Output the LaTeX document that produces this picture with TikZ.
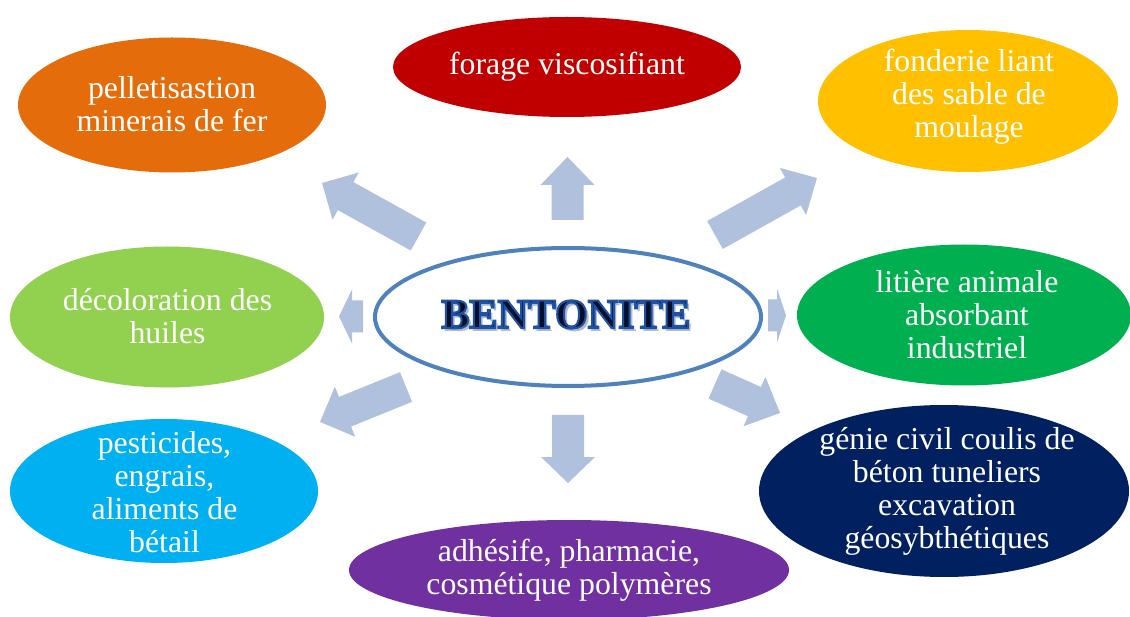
\documentclass[tikz,border=0pt]{standalone}
\usepackage{fontspec}
\setmainfont{Liberation Serif}
\usetikzlibrary{shapes.geometric}

\definecolor{cOrange}{RGB}{228,108,10}
\definecolor{cRed}{RGB}{192,0,0}
\definecolor{cYellow}{RGB}{255,192,0}
\definecolor{cLime}{RGB}{146,208,80}
\definecolor{cGreen}{RGB}{0,176,80}
\definecolor{cCyan}{RGB}{0,176,240}
\definecolor{cNavy}{RGB}{0,32,96}
\definecolor{cPurple}{RGB}{112,48,160}
\definecolor{arrowblue}{RGB}{176,193,221}
\definecolor{ringblue}{RGB}{79,129,189}
\definecolor{bentofill}{RGB}{6,14,40}
\definecolor{bentoshadow}{RGB}{178,186,204}

% block arrow: tail point, direction angle, total length, head length
\newcommand{\blockarrow}[4]{%
  \begin{scope}[shift={(#1)}, rotate=#2]
    \fill[arrowfill] (0,-16) -- (#3-#4,-16) -- (#3-#4,-27) -- (#3,0)
      -- (#3-#4,27) -- (#3-#4,16) -- (0,16) -- cycle;
  \end{scope}}

% outlined text: fill in the current colour, stroked in blue
\newcommand{\outlined}[1]{%
  \special{pdf:literal direct 2 Tr 2 w 0.118 0.322 0.647 RG}#1%
  \special{pdf:literal direct 0 Tr}}

% text with a drop shadow to the lower right, then outlined on top
\newcommand{\shadowed}[1]{%
  \makebox[0pt][l]{\kern3pt\raisebox{-3pt}{\color{bentoshadow}#1}}\outlined{#1}}

\begin{document}
\begin{tikzpicture}[x=1pt,y=-1pt,
  usage/.style={ellipse, inner sep=0pt, draw=none},
  usetext/.style={text=white, align=center, inner sep=0pt,
    font=\fontsize{31.8}{33}\selectfont},
  arrowfill/.style={fill=arrowblue},
  bento/.style={inner sep=0pt, font=\fontsize{42}{46}\selectfont\bfseries}]
\useasboundingbox (0,0) rectangle (1130,617);
\clip (0,0) rectangle (1130,617);
\fill[white] (0,0) rectangle (1130,617);

% application ellipses
\node[usage, fill=cOrange, minimum width=308pt, minimum height=135pt] (eOrange) at (172,105) {};
\node[usage, fill=cRed, minimum width=348pt, minimum height=100pt] (eRed) at (567,67) {};
\node[usage, fill=cYellow, minimum width=300pt, minimum height=142pt] (eYellow) at (968,101) {};
\node[usage, fill=cLime, minimum width=314pt, minimum height=141pt] (eLime) at (167,317) {};
\node[usage, fill=cGreen, minimum width=334pt, minimum height=141pt] (eGreen) at (964,315) {};
\node[usage, fill=cCyan, minimum width=308pt, minimum height=144pt] (eCyan) at (164,491) {};
\node[usage, fill=cNavy, minimum width=370pt, minimum height=172pt] (eNavy) at (944,491) {};
\node[usage, fill=cPurple, minimum width=440pt, minimum height=100pt] (ePurple) at (569,570) {};

% labels
\node[usetext] (tOrange) at (172,104) {pelletisastion\\minerais de fer};
\node[usetext] (tRed) at (567,67) {forage viscosifiant};
\node[usetext] (tYellow) at (969,97) {fonderie liant\\des sable de\\moulage};
\node[usetext] (tLime) at (167.5,316.5) {décoloration des\\huiles};
\node[usetext] (tGreen) at (967,315) {litière animale\\absorbant\\industriel};
\node[usetext] (tCyan) at (164.5,492) {pesticides,\\engrais,\\aliments de\\bétail};
\node[usetext] (tNavy) at (947,491.5) {génie civil coulis de\\béton tuneliers\\excavation\\géosybthétiques};
\node[usetext] (tPurple) at (569,570.5) {adhésife, pharmacie,\\cosmétique polymères};

% arrows pointing out of the centre
\blockarrow{567.5,220}{90}{63}{28}
\blockarrow{568,415}{-90}{68}{26}
\blockarrow{363,316.5}{180}{24}{13}
\blockarrow{768,315.5}{0}{18}{9}
\blockarrow{418.5,236.5}{151}{110.3}{27}
\blockarrow{715,235}{29.2}{116.8}{27.5}
\blockarrow{406,387}{202.1}{92.8}{27}
\blockarrow{715,384}{-24}{71.2}{28}

% central ellipse
\node[ellipse, draw=ringblue, line width=4pt, fill=white, inner sep=0pt,
  minimum width=386pt, minimum height=138pt] (core) at (568,317) {};

% title
\node[bento, text=bentofill] (bTitle) at (566,316) {\shadowed{BENTONITE}};
\end{tikzpicture}
\end{document}
